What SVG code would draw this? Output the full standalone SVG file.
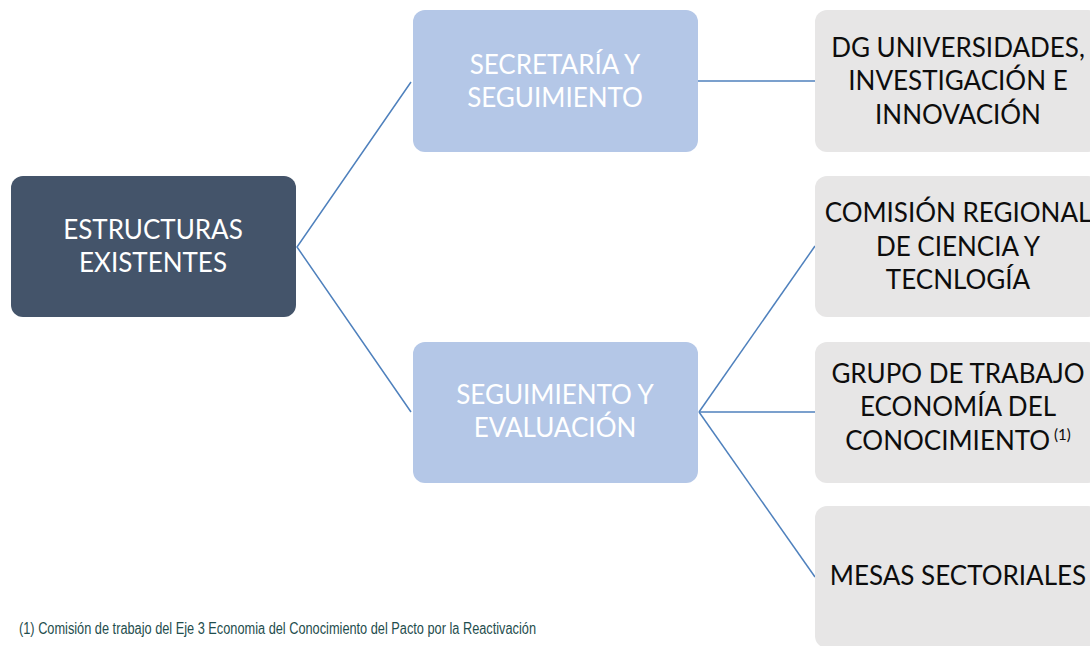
<svg xmlns="http://www.w3.org/2000/svg" width="1090" height="646" viewBox="0 0 1090 646">
<style>
.t{font-family:Lato,"Open Sans","Liberation Sans",sans-serif;font-size:26px;text-anchor:middle}
.w{fill:#ffffff}
.k{fill:#0d0d0d}
.con{stroke:#4f81bd;stroke-width:1.5;fill:none}
.foot{font-family:"Liberation Sans Narrow","Liberation Sans",sans-serif;font-size:16px;fill:#1f4e4e}
</style>
<rect width="1090" height="646" fill="#ffffff"/>
<g id="connectors">
<polyline class="con" points="411,82 297,247 411,412"/>
<line class="con" x1="698" y1="81" x2="815" y2="81"/>
<line class="con" x1="699" y1="412" x2="815" y2="246"/>
<line class="con" x1="699" y1="412" x2="815" y2="412"/>
<line class="con" x1="699" y1="412" x2="815" y2="577"/>
</g>
<g id="estructuras">
<rect x="11" y="176" width="285" height="141" rx="12" fill="#44546a"/>
<text class="t w" x="153" y="239">ESTRUCTURAS</text>
<text class="t w" x="153" y="272">EXISTENTES</text>
</g>
<g id="secretaria">
<rect x="413" y="10" width="285" height="142" rx="12" fill="#b4c7e7"/>
<text class="t w" x="555" y="74">SECRETARÍA Y</text>
<text class="t w" x="555" y="107">SEGUIMIENTO</text>
</g>
<g id="seguimiento">
<rect x="413" y="342" width="285" height="141" rx="12" fill="#b4c7e7"/>
<text class="t w" x="555" y="404">SEGUIMIENTO Y</text>
<text class="t w" x="555" y="437">EVALUACIÓN</text>
</g>
<g id="dg">
<rect x="815" y="10" width="285" height="142" rx="12" fill="#e7e6e6"/>
<text class="t k" x="958" y="57">DG UNIVERSIDADES,</text>
<text class="t k" x="958" y="90">INVESTIGACIÓN E</text>
<text class="t k" x="958" y="124">INNOVACIÓN</text>
</g>
<g id="comision">
<rect x="815" y="176" width="285" height="141" rx="12" fill="#e7e6e6"/>
<text class="t k" x="958" y="222">COMISIÓN REGIONAL</text>
<text class="t k" x="958" y="256">DE CIENCIA Y</text>
<text class="t k" x="958" y="289">TECNLOGÍA</text>
</g>
<g id="grupo">
<rect x="815" y="342" width="285" height="141" rx="12" fill="#e7e6e6"/>
<text class="t k" x="958" y="383">GRUPO DE TRABAJO</text>
<text class="t k" x="958" y="416">ECONOMÍA DEL</text>
<text class="t k" x="958" y="450">CONOCIMIENTO<tspan font-size="15" dy="-10"> (1)</tspan></text>
</g>
<g id="mesas">
<rect x="815" y="506" width="285" height="142" rx="12" fill="#e7e6e6"/>
<text class="t k" x="958" y="585">MESAS SECTORIALES</text>
</g>
<text class="foot" x="19" y="634" textLength="517" lengthAdjust="spacingAndGlyphs">(1) Comisión de trabajo del Eje 3 Economia del Conocimiento del Pacto por la Reactivación</text>
</svg>
